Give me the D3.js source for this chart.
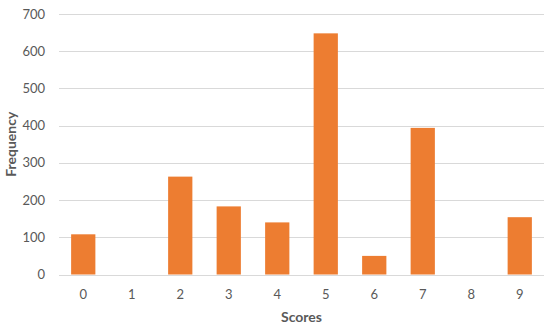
<!DOCTYPE html>
<html>
<head>
<meta charset="utf-8">
<script src="https://cdn.jsdelivr.net/npm/d3@7"></script>
<style>
  body { margin: 0; background: #fff; }
  text { font-family: Lato, "Open Sans", sans-serif; fill: #595959; }
</style>
</head>
<body>
<div id="chart"></div>
<script>
var scores = ['0', '1', '2', '3', '4', '5', '6', '7', '8', '9'];
var frequency = [108, 0, 263, 183, 140, 648, 50, 394, 0, 154];
var yTicks = [0, 100, 200, 300, 400, 500, 600, 700];

var width = 550, height = 327;
var margin = {top: 14, right: 6, bottom: 52.5, left: 59};

var svg = d3.select('#chart').append('svg')
  .attr('width', width)
  .attr('height', height);

var x = d3.scaleBand()
  .domain(scores)
  .range([margin.left, width - margin.right])
  .paddingInner(0.5)
  .paddingOuter(0.25);

var y = d3.scaleLinear()
  .domain([0, 700])
  .range([height - margin.bottom, margin.top]);

// gridlines
svg.append('g')
  .selectAll('line')
  .data(yTicks).enter()
  .append('line')
  .attr('x1', margin.left)
  .attr('x2', width - margin.right)
  .attr('y1', function(d) { return Math.round(y(d)) + 0.5; })
  .attr('y2', function(d) { return Math.round(y(d)) + 0.5; })
  .attr('stroke', '#d9d9d9')
  .attr('stroke-width', 1);

// y tick labels
svg.append('g')
  .selectAll('text')
  .data(yTicks).enter()
  .append('text')
  .attr('x', margin.left - 14)
  .attr('y', function(d) { return y(d); })
  .attr('dy', '0.35em')
  .attr('text-anchor', 'end')
  .style('font-size', '13px')
  .text(function(d) { return d; });

// bars
svg.append('g')
  .selectAll('rect')
  .data(frequency).enter()
  .append('rect')
  .attr('x', function(d, i) { return x(scores[i]); })
  .attr('width', x.bandwidth())
  .attr('y', function(d) { return y(d); })
  .attr('height', function(d) { return y(0) - y(d); })
  .attr('fill', '#ED7D31');

// x tick labels
svg.append('g')
  .selectAll('text')
  .data(scores).enter()
  .append('text')
  .attr('x', function(d) { return x(d) + x.bandwidth() / 2; })
  .attr('y', y(0) + 20)
  .attr('dy', '0.35em')
  .attr('text-anchor', 'middle')
  .style('font-size', '13px')
  .text(function(d) { return d; });

// axis titles
svg.append('text')
  .attr('x', (margin.left + width - margin.right) / 2)
  .attr('y', 317)
  .attr('dy', '0.35em')
  .attr('text-anchor', 'middle')
  .style('font-size', '14px')
  .style('font-weight', 'bold')
  .text('Scores');

svg.append('text')
  .attr('transform', 'translate(11,' + (y(350)) + ') rotate(-90)')
  .attr('dy', '0.35em')
  .attr('text-anchor', 'middle')
  .style('font-size', '14px')
  .style('font-weight', 'bold')
  .text('Frequency');
</script>
</body>
</html>
